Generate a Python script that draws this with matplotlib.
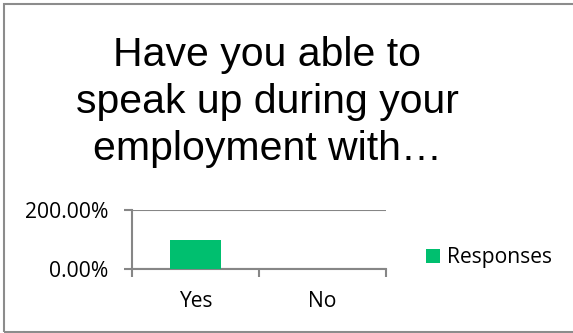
import matplotlib
matplotlib.use("Agg")
from matplotlib import pyplot as plt
from matplotlib.patches import Rectangle
from matplotlib.ticker import FixedLocator
import numpy as np

title = "Have you able to\nspeak up during your\nemployment with\u2026"
categories = ["Yes", "No"]
responses = [100.0, 0.0]          # percent
y_ticks = [0, 200]
y_tick_labels = ["0.00%", "200.00%"]
series_name = "Responses"

bar_color = "#00BF6F"
axis_color = "#868686"
label_font = ["Open Sans", "DejaVu Sans"]
label_size = 15.2

fig = plt.figure(figsize=(5.73, 3.33), dpi=100)

# thin frame round the chart (right edge runs off the canvas)
fig.patches.append(Rectangle((4 / 573, 1.5 / 333), 1.0, 1 - 5.5 / 333,
                             transform=fig.transFigure, fill=False,
                             edgecolor="#8c8c8c", linewidth=1.5))

fig.text(0.466, 0.695, title, ha="center", va="center", fontsize=29.5,
         family="Liberation Sans", linespacing=1.3)

ax = fig.add_axes([132 / 573, 1 - 269 / 333, 127 * 2 / 573, 59 / 333])
x = np.arange(len(categories))
bars = ax.bar(x, responses, width=0.4, color=bar_color, label=series_name, zorder=3)

ax.set_xlim(-0.5, len(categories) - 0.5)
ax.set_ylim(0, 200)
ax.set_yticks(y_ticks)
ax.set_yticklabels(y_tick_labels, family=label_font, fontsize=label_size)
ax.yaxis.grid(True, color=axis_color, linewidth=1.5)
ax.tick_params(axis="y", length=6, width=1.5, color=axis_color, pad=11)

ax.set_xticks(x)
ax.set_xticklabels(categories, family=label_font, fontsize=label_size)
ax.xaxis.set_minor_locator(FixedLocator(np.arange(len(categories) + 1) - 0.5))
ax.tick_params(axis="x", which="major", length=0, pad=16)
ax.tick_params(axis="x", which="minor", length=6, width=1.5, color=axis_color)

for side in ["top", "right"]:
    ax.spines[side].set_visible(False)
for side in ["left", "bottom"]:
    ax.spines[side].set_color(axis_color)
    ax.spines[side].set_linewidth(1.5)

fig.legend(handles=[bars], labels=[series_name], loc="center left",
           bbox_to_anchor=(426 / 573, 1 - 258 / 333), frameon=False,
           borderpad=0, borderaxespad=0,
           prop={"family": label_font, "size": label_size},
           handlelength=0.65, handleheight=0.65, handletextpad=0.35)

fig.savefig("out.png", dpi=100)
